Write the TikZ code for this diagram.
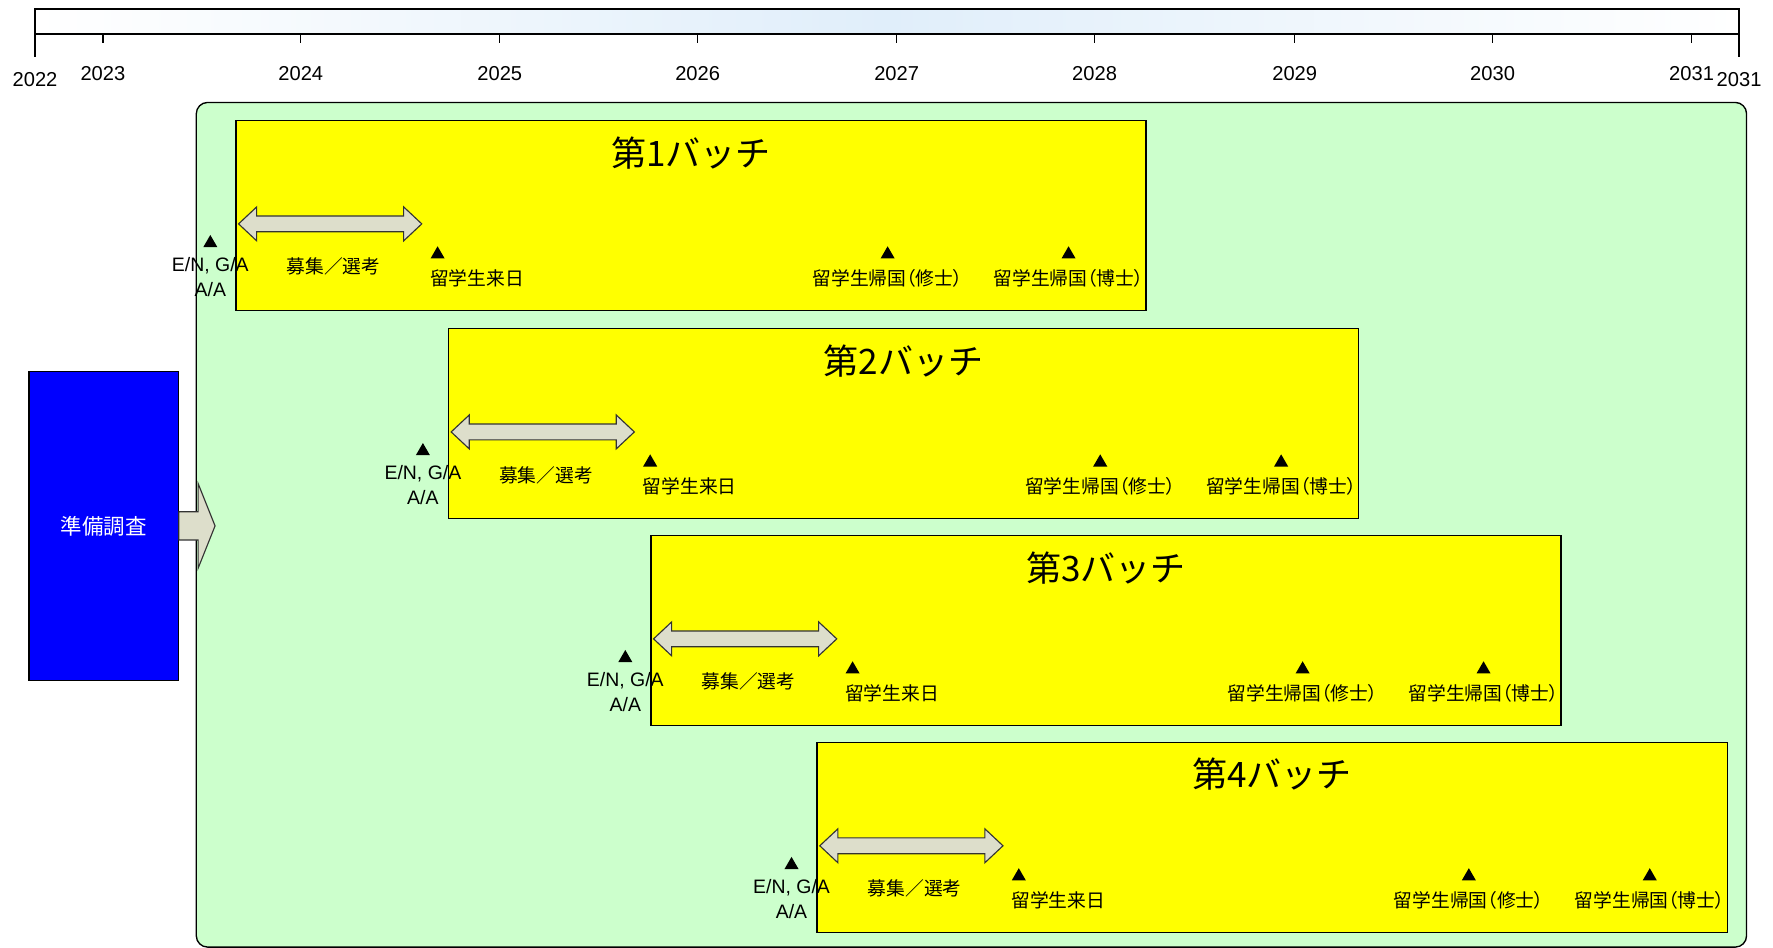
\documentclass[tikz,border=0pt]{standalone}
\usepackage{fontspec}
\setmainfont{Noto Sans CJK JP}
\newfontfamily\jppalt[RawFeature={+palt}]{Noto Sans CJK JP}
\newfontfamily\latinfont{Liberation Sans}
\usetikzlibrary{shapes.geometric,calc}
\definecolor{tlblue}{HTML}{E0EEFA}
\definecolor{bggreen}{HTML}{CCFFCC}
\definecolor{byellow}{HTML}{FFFF00}
\definecolor{pblue}{HTML}{0000FF}
\definecolor{arrowfill}{HTML}{DDDECB}
\begin{document}
\begin{tikzpicture}[x=0.5pt,y=-0.5pt,
  yearlbl/.style={font=\latinfont\fontsize{8.9}{10}\selectfont, inner sep=0pt},
  latlbl/.style={font=\latinfont\fontsize{8.6}{10}\selectfont, inner sep=0pt},
  jplbl/.style={font=\fontsize{8.3}{10}\selectfont, inner sep=0pt},
  retlbl/.style={font=\jppalt\fontsize{8.3}{10}\selectfont, inner sep=0pt},
  titlelbl/.style={font=\fontsize{15.5}{18}\selectfont, inner sep=0pt},
  batchbox/.style={draw=black, line width=0.6pt, fill=byellow, minimum width=402.5pt, minimum height=84pt, inner sep=0pt, anchor=north west},
  tri/.style={regular polygon, regular polygon sides=3, fill=black, minimum size=7.2pt, inner sep=0pt},
  dblarr/.style={draw=black!80, line width=0.5pt, fill=arrowfill},
  blockarr/.style={draw=black!80, line width=0.5pt, fill=arrowfill},
  tick/.style={draw=black, line width=0.6pt}
]
\useasboundingbox (0,0) rectangle (1568,838);

% timeline bar
\draw[line width=0.6pt, left color=white, right color=white, middle color=tlblue] (31,8) rectangle (1538,30);
\draw[tick] (31,30) -- (31,50);
\draw[tick] (1538,30) -- (1538,50);
\node[yearlbl] (y2022a) at (31,70) {2022};
\node[yearlbl] (y2031b) at (1538,70) {2031};
\foreach \x/\lab in {91/2023,266/2024,442/2025,617/2026,793/2027,968/2028,1145/2029,1320/2030,1496/2031}{
  \draw[tick] (\x,30) -- (\x,38);
  \node[yearlbl] (y\lab) at (\x,65) {\lab};
}

% main green area
\node[draw=black, line width=0.6pt, fill=bggreen, rounded corners=5pt, anchor=north west, inner sep=0pt,
      minimum width=685.5pt, minimum height=373.5pt] (plan) at (173,90) {};

% preparatory study
\node[draw=black, line width=0.6pt, fill=pblue, anchor=north west, inner sep=0pt,
      minimum width=66pt, minimum height=136.5pt] (prep) at (25,328) {};
\node[font=\fontsize{9.5}{11}\selectfont, text=white, inner sep=0pt] (preplbl) at (prep.center) {準備調査};

% block arrow from prep to plan
\draw[blockarr] ($(prep.east)+(0,-12.5)$) -- ($(prep.east)+(17,-12.5)$) -- ($(prep.east)+(17,-37.5)$)
  -- ($(prep.east)+(32,0)$) -- ($(prep.east)+(17,37.5)$) -- ($(prep.east)+(17,12.5)$)
  -- ($(prep.east)+(0,12.5)$) -- cycle;

% batches
\foreach \i/\L/\T in {1/208/106, 2/396/290, 3/575/473, 4/722/656}{
  \node[batchbox] (b\i) at (\L,\T) {};
  \node[titlelbl] (t\i) at (\L+403,\T+29) {第{\i}バッチ};
  \draw[dblarr] (\L+3,\T+92) -- (\L+19,\T+77) -- (\L+19,\T+85) -- (\L+149,\T+85)
     -- (\L+149,\T+77) -- (\L+165,\T+92) -- (\L+149,\T+107) -- (\L+149,\T+99)
     -- (\L+19,\T+99) -- (\L+19,\T+107) -- cycle;
  \node[jplbl] (rec\i) at (\L+87,\T+130) {募集／選考};
  \node[tri] (en\i) at (\L-22,\T+109) {};
  \node[latlbl] (enl\i) at (\L-22,\T+129) {E/N, G/A};
  \node[latlbl] (aal\i) at (\L-22,\T+150) {A/A};
  \node[tri] (ar\i) at (\L+179,\T+119) {};
  \node[jplbl, anchor=west] (arl\i) at (\L+172,\T+140) {留学生来日};
  \node[tri] (ms\i) at (\L+577,\T+119) {};
  \node[retlbl] (msl\i) at (\L+577,\T+140) {留学生帰国（修士）};
  \node[tri] (dr\i) at (\L+737,\T+119) {};
  \node[retlbl] (drl\i) at (\L+737,\T+140) {留学生帰国（博士）};
}
\end{tikzpicture}
\end{document}
